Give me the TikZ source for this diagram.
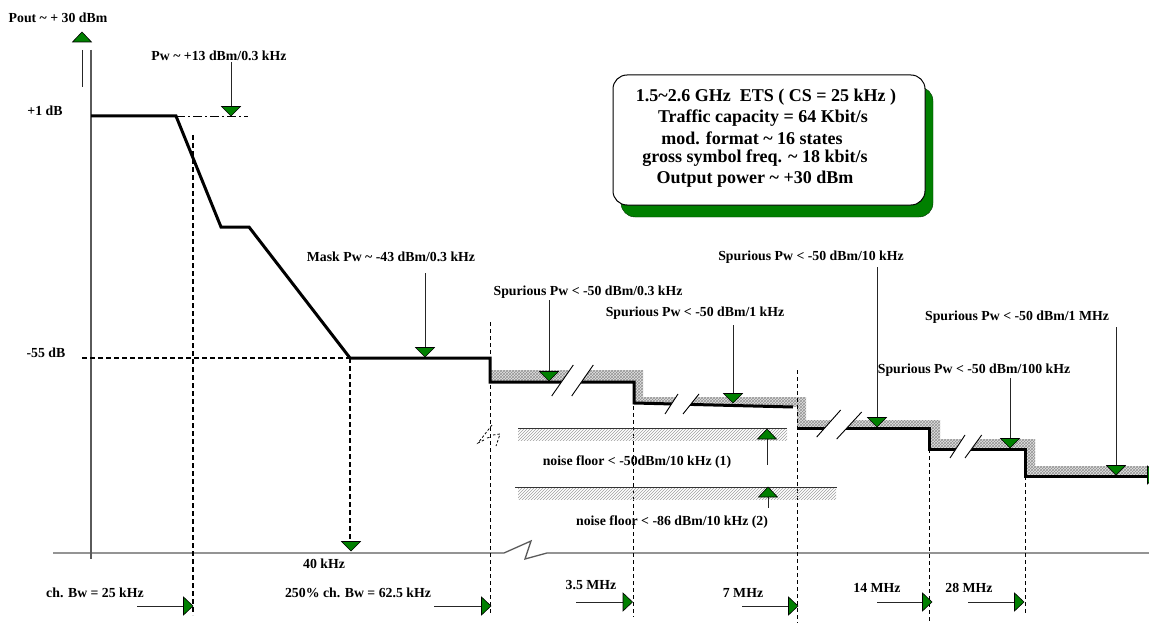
\documentclass[tikz,border=0pt]{standalone}
\usepackage{fontspec}
\setmainfont{Liberation Serif}
\usetikzlibrary{patterns}
\definecolor{mygreen}{RGB}{0,128,0}
\definecolor{axisgray}{RGB}{90,90,90}
\tikzset{
  tri/.style={fill=mygreen, draw=black, line width=0.6pt, line join=miter},
  tdown/.pic={\path[tri] (-9.5,-9.5) -- (9.5,-9.5) -- (0,0) -- cycle;},
  tup/.pic={\path[tri] (-9.5,10) -- (9.5,10) -- (0,0) -- cycle;},
  tright/.pic={\path[tri] (-9.5,-9) -- (-9.5,9) -- (0,0) -- cycle;},
}
\begin{document}
\begin{tikzpicture}[x=1pt,y=-1pt,
  lbl/.style={font=\bfseries\fontsize{13.8}{15}\selectfont, inner sep=0pt},
  boxtxt/.style={font=\bfseries\fontsize{18}{20}\selectfont, inner sep=0pt},
  mainline/.style={line width=3pt, line join=miter},
  ptr/.style={line width=0.9pt, black!85},
  vdash/.style={line width=1pt, dash pattern=on 4pt off 3pt},
  vdashb/.style={line width=1.4pt, dash pattern=on 5pt off 3pt},
  band/.style={preaction={fill=gray!22}, pattern=crosshatch, pattern color=gray!85},
  hatch/.style={pattern=north east lines, pattern color=gray!75},
  axis/.style={line width=1.3pt, axisgray},
  gap/.style={fill=white, draw=none},
  brk/.style={line width=0.9pt, black},
  brkd/.style={line width=0.8pt, dash pattern=on 2.5pt off 2pt},
]
\useasboundingbox (0,0) rectangle (1149,623);

% axes
\draw[axis] (91,50) -- (91,559);
\draw[axis] (53,553) -- (504,553) -- (531,541) -- (525,559) -- (547,553) -- (1152,553);

% spurious band
\path[band] (490,370) -- (643,370) -- (643,397) -- (806,397) -- (806,420) -- (940,420) -- (940,439) -- (1035,439) -- (1035,466) -- (1152,466) -- (1152,476) -- (1025,476) -- (1025,449) -- (929,449) -- (929,428) -- (797,428) -- (797,407) -- (634,403) -- (634,382) -- (490,382) -- cycle;

% mask / spectrum line
\coordinate (m0) at (91,116);
\coordinate (m1) at (176,116);
\coordinate (m2) at (221,227);
\coordinate (m3) at (249,227);
\coordinate (m4) at (350,358);
\coordinate (m5) at (490,358);
\draw[mainline] (m0) -- (m1) -- (m2) -- (m3) -- (m4) -- (m5) -- (490,382) -- (634,382) -- (634,403) -- (793,407);
\draw[mainline] (797,428) -- (929,428) -- (929,449) -- (1025,449) -- (1025,476) -- (1152,476);

% breaks
\path[gap] (551.7,396) -- (573.3,365) -- (593.3,365) -- (571.7,396) -- cycle;
\draw[brk] (551.7,396) -- (573.3,365); \draw[brk] (571.7,396) -- (593.3,365);
\path[gap] (665,414) -- (678,394) -- (699,394) -- (683,414) -- cycle;
\draw[brk] (665,414) -- (678,394); \draw[brk] (683,414) -- (699,394);
\path[gap] (816.7,437) -- (840.7,410) -- (861.7,412) -- (836.7,439) -- cycle;
\draw[brk] (816.7,437) -- (840.7,410); \draw[brk] (836.7,439) -- (861.7,412);
\path[gap] (950,458) -- (965,435) -- (981.7,435) -- (965,458) -- cycle;
\draw[brk] (950,458) -- (965,435); \draw[brk] (965,458) -- (981.7,435);

% dash-dot reference
\draw[line width=0.9pt, dash pattern=on 9pt off 3pt on 2pt off 3pt] (m1) -- (248,116);

% dashed verticals
\draw[vdashb] (193,135) -- (193,615);
\draw[vdashb] (82,358) -- (m4);
\draw[vdashb] (m4) -- (350,541);
\draw[vdash] (490,322) -- (490,615);
\draw[vdash] (633,392) -- (633,617);
\draw[vdash] (797,370) -- (797,623);
\draw[vdash] (929,449) -- (929,623);
\draw[vdash] (1025,476) -- (1025,615);

% break mark on left
\draw[brkd] (492,425) -- (478,443) -- (484,440);
\draw[brkd] (487,438) -- (491,437);
\draw[brkd] (493,435) -- (500,434) -- (496,446);

% noise floors
\path[hatch] (518,428) rectangle (787,440);
\draw[line width=1pt, black!80] (518,428) -- (787,428);
\path[hatch] (518,487) rectangle (836,499);
\draw[line width=1pt, black!80] (515,487) -- (837,487);

% labels
\node[lbl] (pout) at (58,18) {Pout \textasciitilde{} + 30 dBm};
\node[lbl] (p1db) at (45,111) {+1 dB};
\node[lbl] (m55) at (46,353) {-55 dB};
\node[lbl] (pw13) at (219,56) {Pw \textasciitilde{} +13 dBm/0.3 kHz};
\node[lbl] (mask) at (391,257) {Mask Pw \textasciitilde{} -43 dBm/0.3 kHz};
\node[lbl] (s03) at (588,292) {Spurious Pw < -50 dBm/0.3 kHz};
\node[lbl] (s1k) at (695,313) {Spurious Pw < -50 dBm/1 kHz};
\node[lbl] (s10k) at (811,257) {Spurious Pw < -50 dBm/10 kHz};
\node[lbl] (s1m) at (1017,317) {Spurious Pw < -50 dBm/1 MHz};
\node[lbl] (s100k) at (974,370) {Spurious Pw < -50 dBm/100 kHz};
\node[lbl] (nf1) at (637,462) {noise floor < -50dBm/10 kHz (1)};
\node[lbl] (nf2) at (672,522) {noise floor < -86 dBm/10 kHz (2)};
\node[lbl] (k40) at (324,564) {40 kHz};
\node[lbl] (chbw) at (95,593) {ch. Bw = 25 kHz};
\node[lbl] (chbw2) at (358,593) {250\% ch. Bw = 62.5 kHz};
\node[lbl] (f35) at (591,585) {3.5 MHz};
\node[lbl] (f7) at (743,593) {7 MHz};
\node[lbl] (f14) at (877,588) {14 MHz};
\node[lbl] (f28) at (969,588) {28 MHz};

% pointers (down triangles)
\coordinate (a1) at (231,116);
\draw[ptr] (231,62) -- (231,107); \pic at (a1) {tdown};
\coordinate (a2) at (425,357);
\draw[ptr] (425,273) -- (425,348); \pic at (a2) {tdown};
\coordinate (a3) at (549,381);
\draw[ptr] (549,300) -- (549,372); \pic at (a3) {tdown};
\coordinate (a4) at (733,403);
\draw[ptr] (733,325) -- (733,394); \pic at (a4) {tdown};
\coordinate (a5) at (877,427);
\draw[ptr] (877,267) -- (877,418); \pic at (a5) {tdown};
\coordinate (a6) at (1010,448);
\draw[ptr] (1010,378) -- (1010,439); \pic at (a6) {tdown};
\coordinate (a7) at (1116,475);
\draw[ptr] (1116,327) -- (1116,466); \pic at (a7) {tdown};
\coordinate (a8) at (351,551);
\pic at (a8) {tdown};
\pic at (1157,475) {tright};

% up pointers
\coordinate (u0) at (82,32);
\pic at (u0) {tup}; \draw[ptr] (82,50) -- (82,87);
\coordinate (u1) at (767,429);
\draw[ptr] (767,439) -- (767,465); \pic at (u1) {tup};
\coordinate (u2) at (768,487);
\draw[ptr] (768,497) -- (768,508); \pic at (u2) {tup};

% bottom arrows
\draw[ptr] (137,606) -- (183.5,606); \pic at (193,606) {tright};
\draw[ptr] (434,606) -- (481.5,606); \pic at (491,606) {tright};
\draw[ptr] (576,602) -- (623,602); \pic at (632.5,602) {tright};
\draw[ptr] (742,606) -- (788.5,606); \pic at (798,606) {tright};
\draw[ptr] (877,602) -- (922.5,602); \pic at (932,602) {tright};
\draw[ptr] (968,602) -- (1014.5,602); \pic at (1024,602) {tright};

% info box
\path[fill=mygreen, draw=black!60!mygreen, rounded corners=14pt] (621,87) rectangle (933,217);
\path[draw=black, line width=1pt, fill=white, rounded corners=14pt] (613,75) rectangle (925,205);
\node[boxtxt] (b1) at (766,97) {1.5\textasciitilde 2.6 GHz\ \ ETS ( CS = 25 kHz )};
\node[boxtxt] (b2) at (763,118) {Traffic capacity = 64 Kbit/s};
\node[boxtxt] (b3) at (752,138.5) {mod. format \textasciitilde{} 16 states};
\node[boxtxt] (b4) at (755,158.5) {gross symbol freq. \textasciitilde{} 18 kbit/s};
\node[boxtxt] (b5) at (755,179) {Output power \textasciitilde{} +30 dBm};
\end{tikzpicture}
\end{document}
